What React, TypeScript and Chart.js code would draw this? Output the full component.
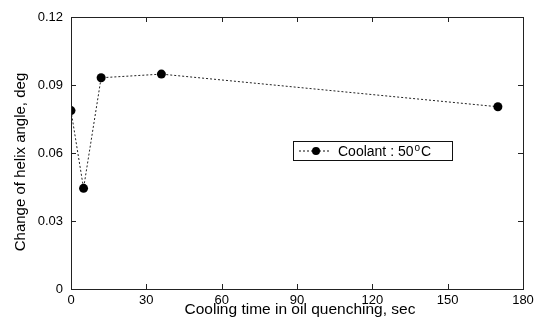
import React, { useEffect, useRef } from "react";
import { Chart, registerables } from "chart.js";

Chart.register(...registerables);

const coolingTime = [0, 5, 12, 36, 170];
const helixChange = [0.0787, 0.0444, 0.0932, 0.0948, 0.0804];
const xTickValues = [0, 30, 60, 90, 120, 150, 180];
const yTickValues = [0, 0.03, 0.06, 0.09, 0.12];
const seriesLabel = "Coolant : 50";
const xTitle = "Cooling time in oil quenching, sec";
const yTitle = "Change of helix angle, deg";

const FONT = "'Liberation Sans', Arial, sans-serif";

const framePlugin = {
  id: "frameTicks",
  afterDatasetsDraw(chart: any) {
    const { ctx, chartArea, scales } = chart;
    const { left, right, top, bottom } = chartArea;
    ctx.save();
    ctx.strokeStyle = "#222";
    ctx.lineWidth = 1;
    ctx.setLineDash([]);
    ctx.strokeRect(left + 0.5, top + 0.5, right - left, bottom - top);
    const L = 5;
    ctx.beginPath();
    xTickValues.forEach((v) => {
      const px = Math.round(scales.x.getPixelForValue(v)) + 0.5;
      ctx.moveTo(px, bottom);
      ctx.lineTo(px, bottom - L);
      ctx.moveTo(px, top);
      ctx.lineTo(px, top + L);
    });
    yTickValues.forEach((v) => {
      const py = Math.round(scales.y.getPixelForValue(v)) + 0.5;
      ctx.moveTo(left, py);
      ctx.lineTo(left + L, py);
      ctx.moveTo(right, py);
      ctx.lineTo(right - L, py);
    });
    ctx.stroke();

    // axis titles
    ctx.fillStyle = "#000";
    ctx.textAlign = "center";
    ctx.textBaseline = "alphabetic";
    ctx.font = `15.5px ${FONT}`;
    ctx.fillText(xTitle, (left + right) / 2 + 3, 314);
    ctx.save();
    ctx.translate(25, 162);
    ctx.rotate(-Math.PI / 2);
    ctx.font = `15px ${FONT}`;
    ctx.fillText(yTitle, 0, 0);
    ctx.restore();

    // legend box
    const bx = 293, by = 141, bw = 159, bh = 19;
    ctx.fillStyle = "#fff";
    ctx.fillRect(bx, by, bw, bh);
    ctx.strokeStyle = "#111";
    ctx.strokeRect(bx + 0.5, by + 0.5, bw, bh);
    const cy = by + bh / 2 + 0.5;
    ctx.setLineDash([2, 2]);
    ctx.beginPath();
    ctx.moveTo(bx + 6, cy);
    ctx.lineTo(bx + 37, cy);
    ctx.stroke();
    ctx.setLineDash([]);
    ctx.fillStyle = "#000";
    ctx.beginPath();
    ctx.arc(bx + 23, cy, 4, 0, Math.PI * 2);
    ctx.fill();
    ctx.font = `14px ${FONT}`;
    ctx.textBaseline = "middle";
    ctx.textAlign = "left";
    const tx = bx + 45;
    ctx.fillText(seriesLabel, tx, cy + 1);
    const w1 = ctx.measureText(seriesLabel).width;
    ctx.font = `10px ${FONT}`;
    ctx.fillText("o", tx + w1 + 1, cy - 3);
    const w2 = ctx.measureText("o").width;
    ctx.font = `14px ${FONT}`;
    ctx.fillText("C", tx + w1 + 1 + w2 + 1, cy + 1);
    ctx.restore();
  },
};

export default function App() {
  const ref = useRef<HTMLCanvasElement>(null);
  useEffect(() => {
    document.body.style.margin = "0";
    const chart = new Chart(ref.current as HTMLCanvasElement, {
      type: "line",
      data: {
        datasets: [
          {
            label: seriesLabel,
            data: coolingTime.map((x, i) => ({ x, y: helixChange[i] })),
            borderColor: "#222",
            borderWidth: 1,
            borderDash: [2, 2],
            pointRadius: 4.5,
            pointBackgroundColor: "#000",
            pointBorderColor: "#000",
            pointBorderWidth: 0,
            tension: 0,
            fill: false,
          },
        ],
      },
      options: {
        animation: false,
        responsive: false,
        maintainAspectRatio: false,
        layout: { padding: { left: 0, right: 24, top: 17, bottom: 0 } },
        plugins: { legend: { display: false }, tooltip: { enabled: false } },
        scales: {
          x: {
            type: "linear",
            min: 0,
            max: 180,
            afterBuildTicks: (s: any) => {
              s.ticks = xTickValues.map((v) => ({ value: v }));
            },
            afterFit: (s: any) => {
              s.height = 31;
            },
            grid: { display: false, drawTicks: false },
            border: { display: false },
            ticks: {
              color: "#000",
              font: { family: FONT, size: 13 },
              padding: 4,
              maxRotation: 0,
            },
          },
          y: {
            type: "linear",
            min: 0,
            max: 0.12,
            afterBuildTicks: (s: any) => {
              s.ticks = yTickValues.map((v) => ({ value: v }));
            },
            afterFit: (s: any) => {
              s.width = 71;
            },
            grid: { display: false, drawTicks: false },
            border: { display: false },
            ticks: {
              color: "#000",
              font: { family: FONT, size: 13 },
              padding: 8,
              callback: (v: any) => (Number(v) === 0 ? "0" : Number(v).toFixed(2)),
            },
          },
        },
      },
      plugins: [framePlugin],
    });
    return () => chart.destroy();
  }, []);
  return (
    <div style={{ width: 547, height: 320, background: "#fff" }}>
      <canvas ref={ref} width={547} height={320} />
    </div>
  );
}
